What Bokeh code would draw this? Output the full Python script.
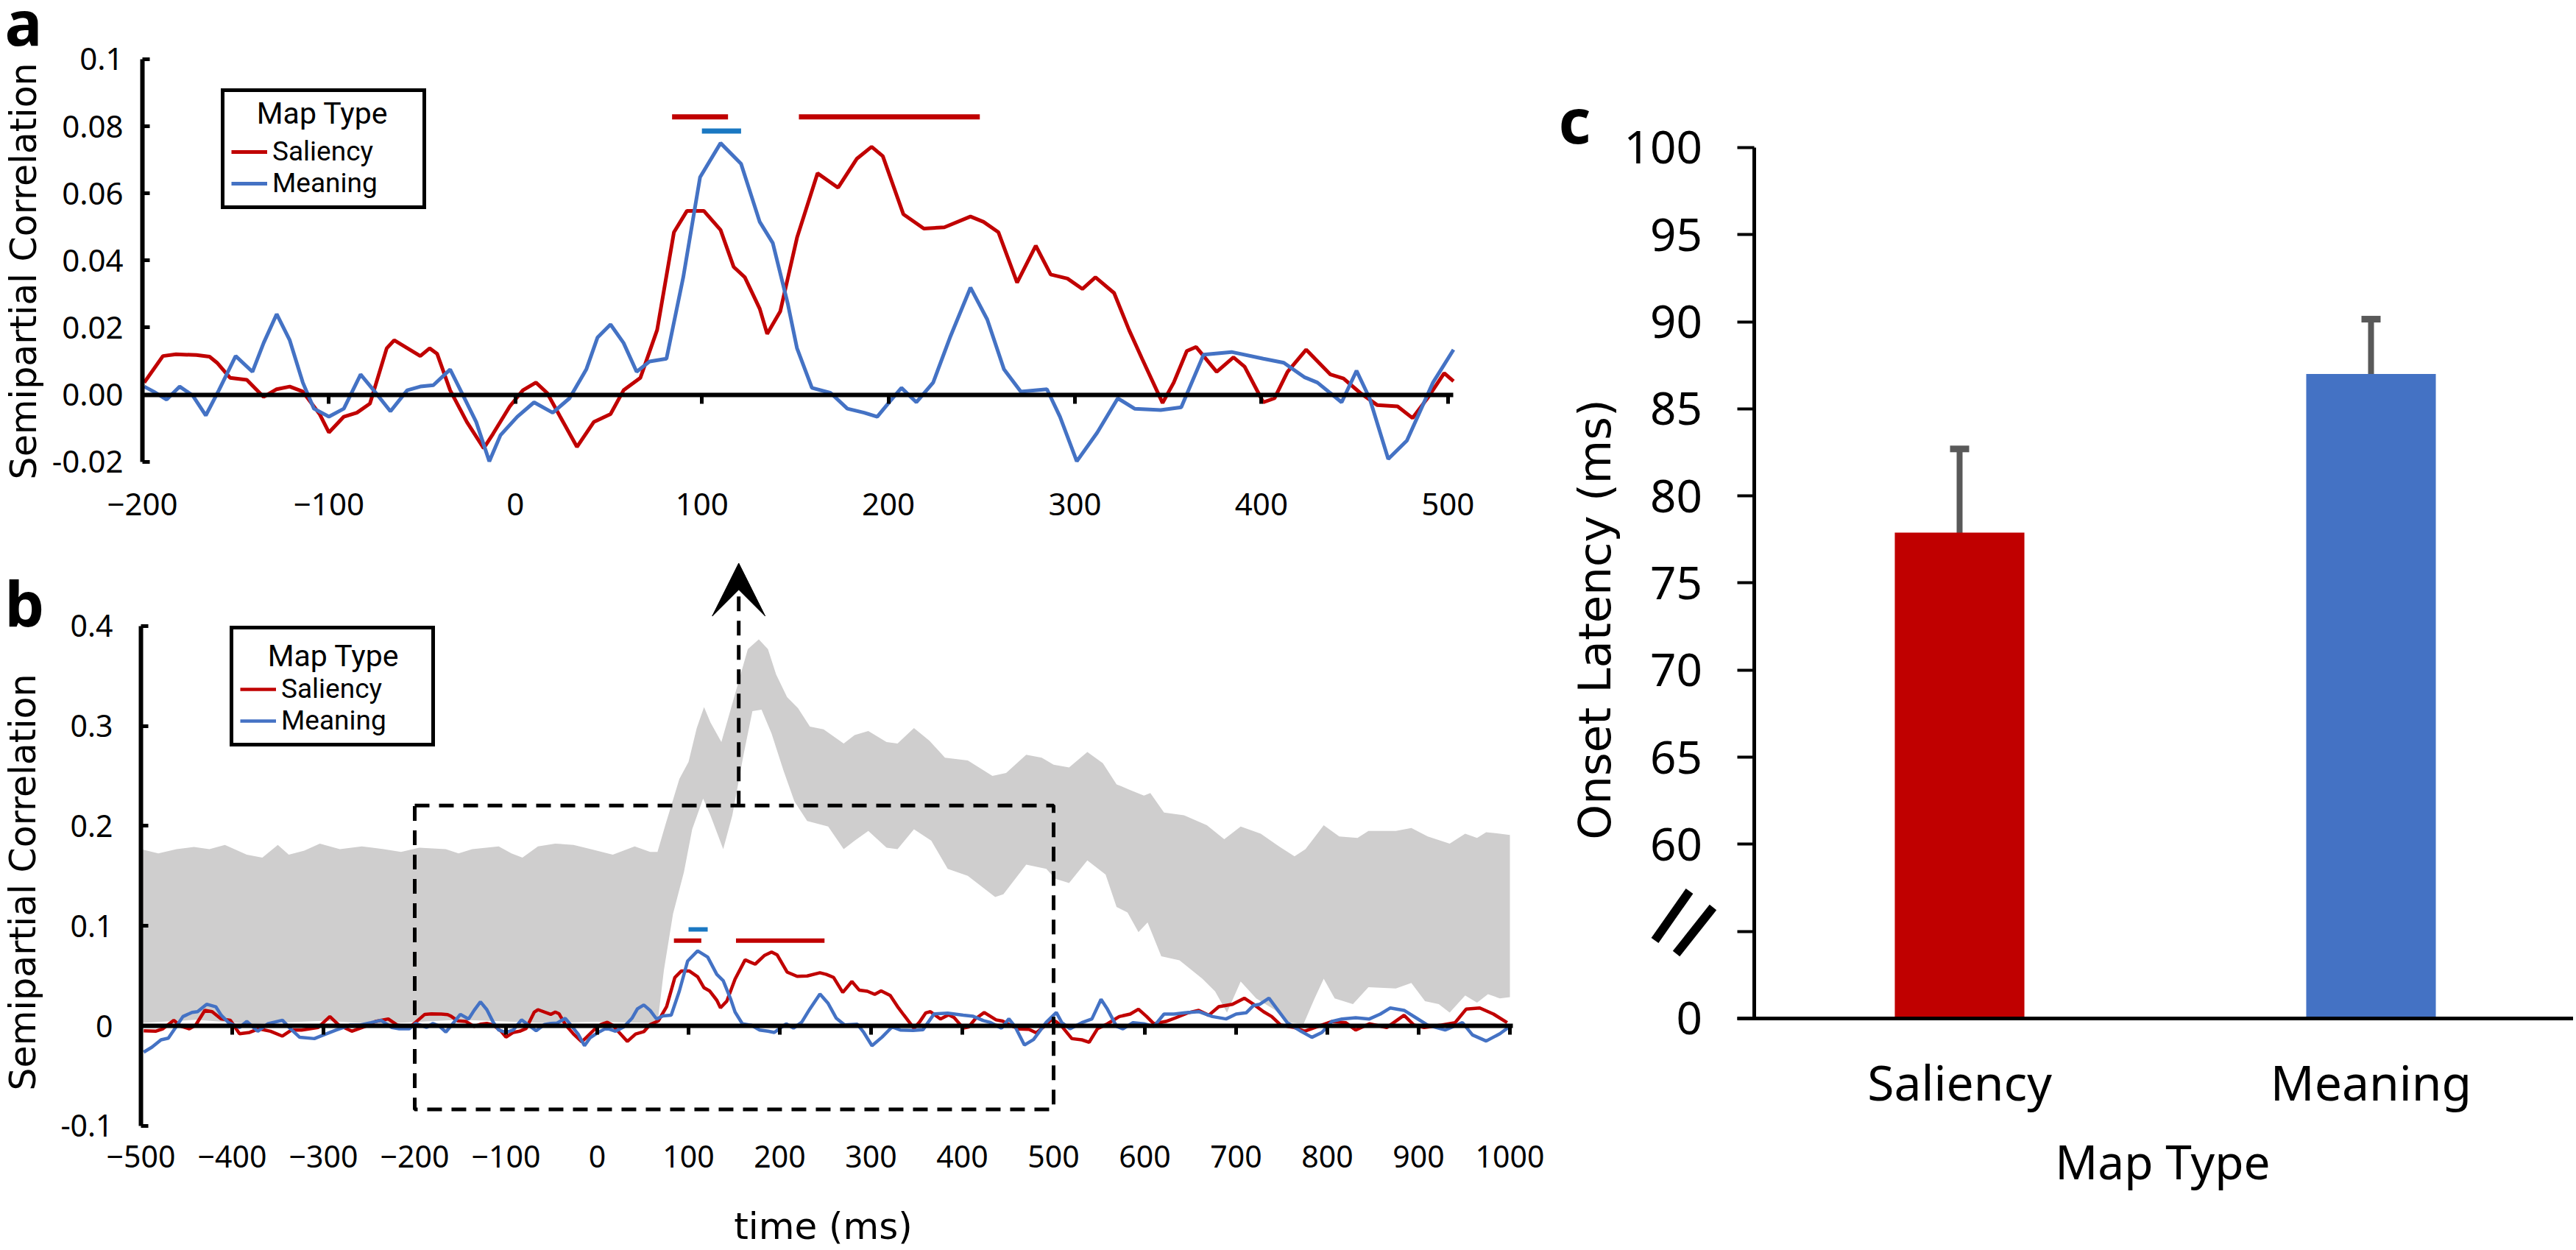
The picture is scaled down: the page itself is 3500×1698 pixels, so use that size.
import math
from bokeh.plotting import figure
from bokeh.models import (LinearAxis, FixedTicker, Range1d, Legend, LegendItem, Label,
                          BoxAnnotation, Arrow, VeeHead, Whisker, TeeHead, ColumnDataSource)
from bokeh.layouts import row, column
from bokeh.embed import file_html
from bokeh.resources import INLINE

# ---------------- data ----------------
# Panel a (shared with panel b between -200 and 500 ms)
SAL_T = [-199, -189, -182, -171, -164, -160, -153, -144, -135, -128, -121, -114, -105, -100, -92, -85, -78,
         -69, -65, -51, -46, -42, -35, -26, -17, -12, -3, 4, 11, 17, 24, 33, 42, 51, 58, 67, 76, 85, 92,
         101, 110, 117, 123, 131, 135, 142, 151, 162, 173, 183, 191, 197, 208, 219, 230, 244, 251, 259,
         269, 279, 287, 296, 304, 311, 321, 329, 336, 347, 353, 360, 365, 376, 385, 391, 401, 407, 414,
         424, 437, 444, 453, 462, 473, 481, 489, 498, 503]
SAL_R = [0.0036, 0.0115, 0.012, 0.0118, 0.0113, 0.0095, 0.005, 0.0044, -0.0007, 0.0016, 0.0024, 0.0009,
         -0.0058, -0.0113, -0.0066, -0.0054, -0.0027, 0.0138, 0.0162, 0.0115, 0.0138, 0.0122, 0.0013,
         -0.0082, -0.016, -0.0117, -0.0035, 0.0013, 0.0036, 0.0005, -0.0066, -0.0156, -0.0082, -0.0058,
         0.0013, 0.005, 0.0193, 0.0484, 0.0548, 0.0548, 0.0491, 0.0381, 0.035, 0.0256, 0.0181, 0.0248,
         0.0468, 0.066, 0.0617, 0.0703, 0.0739, 0.0711, 0.0538, 0.0495, 0.0499, 0.0531, 0.0515, 0.0484,
         0.0334, 0.0444, 0.0358, 0.0346, 0.0315, 0.035, 0.0303, 0.0193, 0.0107, -0.0025, 0.0036, 0.013,
         0.0142, 0.0068, 0.0111, 0.0083, -0.0023, -0.0011, 0.0068, 0.0134, 0.006, 0.0048, 0.0005, -0.0031,
         -0.0035, -0.007, -0.0011, 0.0064, 0.004]
MEA_T = [-199, -194, -187, -180, -173, -166, -159, -150, -141, -135, -128, -121, -114, -108, -100, -92, -83,
         -76, -67, -58, -51, -44, -35, -28, -21, -14, -8, 1, 10, 20, 29, 38, 44, 51, 58, 65, 72, 81, 90, 99,
         110, 121, 131, 138, 146, 151, 159, 169, 178, 187, 194, 201, 207, 215, 224, 233, 244, 253, 262, 271,
         285, 292, 301, 312, 323, 332, 346, 357, 369, 384, 401, 412, 423, 430, 443, 451, 458, 468, 478, 492,
         503]
MEA_R = [0.0024, 0.0009, -0.0015, 0.0024, -0.0003, -0.0062, 0.0013, 0.0115, 0.0068, 0.0154, 0.024, 0.0162,
         0.0036, -0.0042, -0.0066, -0.0042, 0.006, 0.0013, -0.005, 0.0013, 0.0024, 0.0028, 0.0075, -0.0003,
         -0.0082, -0.0199, -0.0121, -0.0066, -0.0023, -0.0054, -0.0011, 0.0075, 0.017, 0.0209, 0.0154,
         0.0068, 0.0099, 0.0107, 0.035, 0.0648, 0.075, 0.0688, 0.0515, 0.0452, 0.0272, 0.0138, 0.002, 0.0005,
         -0.0042, -0.0054, -0.0066, -0.0019, 0.002, -0.0023, 0.0036, 0.017, 0.0319, 0.0224, 0.0075, 0.0009,
         0.0016, -0.0066, -0.0199, -0.0113, -0.0011, -0.0042, -0.0046, -0.0038, 0.0119, 0.0127, 0.0107,
         0.0095, 0.0052, 0.0036, -0.0023, 0.0071, -0.0011, -0.0192, -0.0137, 0.0036, 0.0134]

# Panel b only: before -200 ms and after 500 ms
SAL_PRE_T = [-497, -484, -476, -464, -456, -447, -440, -430, -422, -412, -402, -392, -381, -371, -358, -345,
             -335, -324, -306, -293, -283, -269, -254, -243, -229, -219, -206]
SAL_PRE_R = [-0.005, -0.0054, -0.003, 0.0056, -0.0005, -0.003, 0.0007, 0.0155, 0.0142, 0.0069, 0.0056,
             -0.0079, -0.0066, -0.003, -0.0054, -0.0103, -0.0042, -0.0042, -0.0017, 0.0093, 0.0007, -0.0054,
             -0.0005, 0.0044, 0.0069, 0.0007, -0.0017]
SAL_POST_T = [509, 520, 531, 539, 548, 559, 572, 584, 593, 602, 610, 623, 634, 647, 659, 670, 681, 696, 709,
              719, 730, 739, 749, 764, 775, 790, 805, 820, 831, 846, 865, 884, 895, 906, 925, 940, 952, 967,
              982, 997]
SAL_POST_R = [-0.0005, -0.0128, -0.014, -0.0164, -0.003, 0.002, 0.0093, 0.0118, 0.0167, 0.0093, 0.002,
              0.0044, 0.0081, 0.013, 0.0155, 0.0106, 0.0191, 0.0216, 0.0277, 0.0216, 0.0142, 0.0093, 0.0007,
              -0.0017, -0.0054, -0.0005, 0.0044, 0.0032, -0.0042, 0.002, -0.0017, 0.0106, 0.0007, -0.0017,
              0.0007, 0.0032, 0.0167, 0.0179, 0.0118, 0.0032]
MEA_PRE_T = [-497, -488, -478, -470, -462, -454, -444, -438, -428, -418, -412, -404, -392, -384, -372, -361,
             -345, -336, -326, -310, -300, -286, -271, -260, -248, -237, -225, -217, -206]
MEA_PRE_R = [-0.0263, -0.0214, -0.014, -0.0123, -0.0017, 0.0093, 0.0135, 0.0142, 0.0216, 0.0191, 0.0106,
             0.0032, -0.0017, 0.0044, -0.0054, 0.002, 0.0056, -0.003, -0.0115, -0.0128, -0.0091, -0.0042,
             0.0007, 0.0007, 0.0032, 0.0056, -0.0017, -0.003, -0.003]
MEA_POST_T = [509, 518, 531, 542, 552, 559, 569, 576, 587, 599, 610, 621, 632, 644, 659, 674, 689, 700, 711,
              719, 726, 736, 745, 756, 771, 783, 794, 805, 816, 831, 846, 858, 869, 884, 897, 910, 929, 948,
              959, 974, 989, 1000]
MEA_POST_R = [0.0032, -0.003, 0.0032, 0.0069, 0.0265, 0.0167, -0.0005, -0.003, 0.0032, 0.002, -0.0005,
              0.0118, 0.0118, 0.013, 0.0142, 0.0093, 0.0069, 0.0118, 0.013, 0.0204, 0.0216, 0.0277, 0.0167,
              0.0032, -0.0054, -0.0115, -0.0066, 0.0044, 0.0069, 0.0081, 0.0069, 0.0118, 0.0179, 0.0155,
              0.0081, 0.0007, -0.0042, 0.0032, -0.0091, -0.0152, -0.0079, -0.0005]

# Panel b grey band (upper and lower edge)
BAND_UP_T = [-500, -481, -461, -442, -425, -408, -384, -367, -350, -338, -321, -304, -282, -258, -234, -215,
             -195, -166, -152, -137, -108, -94, -82, -65, -46, -26, -7, 17, 41, 58, 66, 75, 90, 100, 109, 117,
             124, 136, 150, 165, 177, 187, 196, 208, 220, 233, 248, 270, 282, 297, 317, 329, 347, 364, 381,
             406, 433, 448, 470, 487, 500, 517, 537, 554, 569, 584, 599, 606, 621, 643, 668, 687, 705, 727,
             747, 764, 776, 796, 813, 833, 845, 875, 892, 910, 934, 951, 964, 974, 989, 1000]
BAND_UP = [0.1768, 0.1726, 0.1768, 0.179, 0.1768, 0.181, 0.1712, 0.1684, 0.181, 0.1712, 0.1754, 0.1824,
           0.1768, 0.1796, 0.1768, 0.174, 0.1782, 0.1768, 0.1726, 0.1768, 0.1796, 0.1726, 0.1684, 0.1796,
           0.1824, 0.181, 0.1768, 0.1712, 0.1796, 0.174, 0.174, 0.2022, 0.2472, 0.2641, 0.298, 0.319, 0.3037,
           0.284, 0.329, 0.377, 0.3868, 0.377, 0.3516, 0.329, 0.3178, 0.2995, 0.2966, 0.2825, 0.291, 0.295,
           0.284, 0.2825, 0.298, 0.2853, 0.2684, 0.2655, 0.25, 0.253, 0.2712, 0.2684, 0.2614, 0.2586, 0.274,
           0.2628, 0.2417, 0.236, 0.2304, 0.233, 0.2134, 0.2107, 0.2008, 0.1867, 0.1994, 0.1923, 0.1796,
           0.1697, 0.1768, 0.2008, 0.1895, 0.1881, 0.1951, 0.1951, 0.198, 0.1895, 0.1824, 0.1923, 0.1881,
           0.1937, 0.1923, 0.1909]
BAND_LO_T = [-500, -440, -380, -300, -240, -150, -60, 0, 60, 66, 73, 83, 95, 104, 116, 124, 138, 148, 160,
             170, 180, 191, 204, 216, 230, 253, 270, 282, 297, 317, 329, 347, 366, 384, 406, 436, 445, 470,
             492, 502, 517, 537, 557, 569, 581, 593, 603, 618, 638, 663, 677, 690, 705, 722, 742, 756, 774,
             786, 796, 808, 828, 845, 875, 892, 907, 922, 934, 951, 964, 976, 989, 1000]
BAND_LO = [0.003, 0.006, 0.002, 0.005, 0.002, 0.006, 0.003, 0.004, 0.003, 0.002, 0.0556, 0.112, 0.154,
           0.1966, 0.2275, 0.2107, 0.1768, 0.2107, 0.27, 0.315, 0.3163, 0.2924, 0.2557, 0.2247, 0.205,
           0.1994, 0.1768, 0.1852, 0.1951, 0.1782, 0.1768, 0.1966, 0.1852, 0.157, 0.15, 0.1289, 0.1317,
           0.1613, 0.157, 0.1472, 0.143, 0.1655, 0.1514, 0.119, 0.1134, 0.0937, 0.1035, 0.0697, 0.0655,
           0.0472, 0.0345, 0.0133, 0.0444, 0.0275, 0.0162, 0.0035, 0.002, 0.0275, 0.0472, 0.0275, 0.0218,
           0.0387, 0.0373, 0.0429, 0.0246, 0.0218, 0.0133, 0.0303, 0.0232, 0.0316, 0.0275, 0.0288]

# significant time windows (ms)
SIG_SAL = [(84, 114), (152, 249)]
SIG_MEA = [(100, 121)]

# zoom window of panel a shown in panel b
ZOOM_X = (-200, 500)
ZOOM_Y = (-0.0837, 0.2205)
ARROW_X = 155
ARROW_TIP = 0.463

# Panel c
CATS = ["Saliency", "Meaning"]
LATENCY = [77.9, 87.0]
LATENCY_ERR = [4.8, 3.15]

A_XTICKS = [-200, -100, 0, 100, 200, 300, 400, 500]
A_YTICKS = [-0.02, 0.0, 0.02, 0.04, 0.06, 0.08, 0.1]
A_YLABELS = ["-0.02", "0.00", "0.02", "0.04", "0.06", "0.08", "0.1"]
B_XTICKS = list(range(-500, 1001, 100))
B_YTICKS = [-0.1, 0.0, 0.1, 0.2, 0.3, 0.4]
B_YLABELS = ["-0.1", "0", "0.1", "0.2", "0.3", "0.4"]
C_YTICKS = [50, 55, 60, 65, 70, 75, 80, 85, 90, 95, 100]
C_YLABELS = ["0", "", "60", "65", "70", "75", "80", "85", "90", "95", "100"]

# ---------------- styles ----------------
TICK_FONT = "Noto Sans"
TITLE_FONT = "DejaVu Sans"
LEG_FONT = "Roboto"
RED = "#C00000"
BLUE = "#4472C4"
SIG_BLUE = "#1A78C2"
BAND = "#CFCECE"
ERR = "#595959"


def base_fig(**kw):
    p = figure(output_backend="svg", toolbar_location=None, x_axis_location=None, y_axis_location=None,
               min_border=0, **kw)
    p.title.visible = False
    p.grid.visible = False
    p.outline_line_color = None
    p.background_fill_color = "white"
    p.border_fill_color = "white"
    return p


def lin_axis(**kw):
    base = dict(minor_tick_line_color=None, axis_line_color="black", major_tick_line_color="black",
                major_label_text_color="black", major_label_text_font=TICK_FONT)
    base.update(kw)
    return LinearAxis(**base)


def text(p, x, y, txt, font, size, angle=0.0, style="normal", align="center", level="annotation"):
    p.add_layout(Label(x=x, y=y, text=txt, text_font=font, text_font_size=size, text_font_style=style,
                       text_align=align, text_baseline="middle", text_color="black", angle=angle,
                       level=level))


def time_axes(p, xloc, yloc, xticks, xbounds, yticks, ylabels, ybounds, xstandoff, ystandoff, fs):
    p.add_layout(lin_axis(fixed_location=yloc, ticker=FixedTicker(ticks=yticks),
                          major_label_overrides={t: s for t, s in zip(yticks, ylabels)},
                          bounds=ybounds, axis_line_width=6, major_tick_in=10, major_tick_out=0,
                          major_tick_line_width=5, major_label_text_font_size=fs,
                          major_label_standoff=ystandoff), "left")
    p.add_layout(lin_axis(fixed_location=xloc, ticker=FixedTicker(ticks=xticks), axis_line_color=None,
                          major_tick_line_color=None, major_tick_out=0, major_tick_in=0,
                          major_label_text_font_size=fs, major_label_standoff=xstandoff), "below")
    p.add_layout(lin_axis(fixed_location=0, ticker=FixedTicker(ticks=xticks), bounds=xbounds,
                          major_label_text_color=None, major_tick_in=12, major_tick_out=0,
                          major_tick_line_width=5, axis_line_width=6), "above")


def add_legend(p, r_sal, r_mea, loc, title_x, title_y):
    # the legend reserves a title row; the title text itself is centred over the box
    lg = Legend(items=[LegendItem(label="Saliency", renderers=[r_sal]),
                       LegendItem(label="Meaning", renderers=[r_mea])],
                location=loc, title="\u00a0",
                title_text_font=LEG_FONT, title_text_font_size="41px", title_text_font_style="normal",
                title_text_color="black", title_standoff=2,
                label_text_font=LEG_FONT, label_text_font_size="37px", label_text_color="black",
                glyph_width=49, glyph_height=30, label_height=30, label_width=195, label_standoff=7,
                spacing=0, padding=9, margin=0,
                border_line_color="black", border_line_width=5, border_line_alpha=1.0,
                background_fill_color="white", background_fill_alpha=0.0)
    p.add_layout(lg)
    text(p, title_x, title_y, "Map Type", LEG_FONT, "41px", level="overlay")


def sig_bars(p, spans, y, color, width):
    p.segment(x0=[s[0] for s in spans], x1=[s[1] for s in spans], y0=[y] * len(spans), y1=[y] * len(spans),
              line_color=color, line_width=width, line_cap="butt")


# ---------------- panel a ----------------
pa = base_fig(width=2098, height=743, x_range=Range1d(-276.16, 551.78), y_range=Range1d(-0.04555, 0.11756))
time_axes(pa, -0.021, -200, A_XTICKS, (-200, 503), A_YTICKS, A_YLABELS, (-0.02, 0.1), 38, 26, "42px")
ra_s = pa.line(SAL_T, SAL_R, line_color=RED, line_width=5)
ra_m = pa.line(MEA_T, MEA_R, line_color=BLUE, line_width=5)
sig_bars(pa, SIG_SAL, 0.0828, RED, 7)
sig_bars(pa, SIG_MEA, 0.0786, SIG_BLUE, 7)
add_legend(pa, ra_s, ra_m, (300, 459), -103.5, 0.0838)
text(pa, -263.7, 0.0368, "Semipartial Correlation", TITLE_FONT, "49px", angle=math.pi / 2)
text(pa, -273.8, 0.1112, "a", TICK_FONT, "85px", style="bold", align="left")

# ---------------- panel b ----------------
pb = base_fig(width=2098, height=951, x_range=Range1d(-654.03, 1037.9), y_range=Range1d(-0.22173, 0.47882))
time_axes(pb, -0.101, -500, B_XTICKS, (-500, 1003), B_YTICKS, B_YLABELS, (-0.1, 0.4), 25, 38, "41px")
pb.patch(BAND_UP_T + BAND_LO_T[::-1], BAND_UP + BAND_LO[::-1], fill_color=BAND, line_color=None)
rb_s = pb.line(SAL_PRE_T + SAL_T + SAL_POST_T, SAL_PRE_R + SAL_R + SAL_POST_R, line_color=RED, line_width=4.5)
rb_m = pb.line(MEA_PRE_T + MEA_T + MEA_POST_T, MEA_PRE_R + MEA_R + MEA_POST_R, line_color=BLUE, line_width=4.5)
sig_bars(pb, SIG_SAL, 0.0852, RED, 6)
sig_bars(pb, SIG_MEA, 0.0965, SIG_BLUE, 6)
add_legend(pb, rb_s, rb_m, (312, 680), -289.1, 0.3705)
pb.add_layout(BoxAnnotation(left=ZOOM_X[0], right=ZOOM_X[1], bottom=ZOOM_Y[0], top=ZOOM_Y[1],
                            fill_alpha=0, fill_color=None, line_color="black", line_alpha=1.0,
                            line_width=5, line_dash="20 13"))
pb.add_layout(Arrow(end=VeeHead(size=72, fill_color="black", line_color="black", line_width=1),
                    x_start=ARROW_X, y_start=ZOOM_Y[1], x_end=ARROW_X, y_end=ARROW_TIP,
                    line_color="black", line_width=5, line_dash="20 13"))
text(pb, -629.0, 0.1437, "Semipartial Correlation", TITLE_FONT, "49px", angle=math.pi / 2)
text(pb, 247.6, -0.2010, "time (ms)", TITLE_FONT, "50px")
text(pb, -649.2, 0.4243, "b", TICK_FONT, "85px", style="bold", align="left")

# ---------------- panel c ----------------
pc = base_fig(width=1398, height=1694, x_range=Range1d(-1.00895, 1.49195), y_range=Range1d(36.855, 108.453))
cx_pos = list(range(len(CATS)))
src = ColumnDataSource(dict(x=cx_pos, top=LATENCY, color=[RED, BLUE],
                            upper=[v + e for v, e in zip(LATENCY, LATENCY_ERR)],
                            lower=[v - e for v, e in zip(LATENCY, LATENCY_ERR)]))
pc.vbar(x="x", top="top", bottom=50, width=0.315, fill_color="color", line_color=None, source=src)
pc.add_layout(Whisker(source=src, base="x", upper="upper", lower="lower",
                      line_color=ERR, line_width=8,
                      upper_head=TeeHead(size=26, line_color=ERR, line_width=9),
                      lower_head=TeeHead(size=26, line_color=ERR, line_width=9)))
pc.add_layout(lin_axis(fixed_location=50, ticker=FixedTicker(ticks=cx_pos),
                       major_label_overrides={i: c for i, c in zip(cx_pos, CATS)},
                       bounds=(-0.541, 1.492), axis_line_width=5, major_tick_line_color=None,
                       major_tick_out=0, major_tick_in=0, major_label_text_font_size="66px",
                       major_label_standoff=41), "below")
pc.add_layout(lin_axis(fixed_location=-0.5, ticker=FixedTicker(ticks=C_YTICKS),
                       major_label_overrides={t: s for t, s in zip(C_YTICKS, C_YLABELS)},
                       bounds=(50, 100), axis_line_width=5, major_tick_out=23, major_tick_in=0,
                       major_tick_line_width=4, major_label_text_font_size="62px",
                       major_label_standoff=47), "left")
text(pc, -0.8873, 72.91, "Onset Latency (ms)", TITLE_FONT, "61px", angle=math.pi / 2)
text(pc, 0.4937, 41.8, "Map Type", TICK_FONT, "64px")
# axis break mark on the y axis (between 0 and 60)
pc.patches(xs=[[-0.6478, -0.7318, -0.7494, -0.6653], [-0.5909, -0.6803, -0.6971, -0.6077]],
           ys=[[57.166, 54.334, 54.626, 57.458], [56.224, 53.561, 53.877, 56.540]],
           fill_color="black", line_color=None)
text(pc, -0.975, 101.61, "c", TICK_FONT, "85px", style="bold", align="left")

layout = row(column(pa, pb), pc)
open("out.html", "w").write(file_html(layout, INLINE))
